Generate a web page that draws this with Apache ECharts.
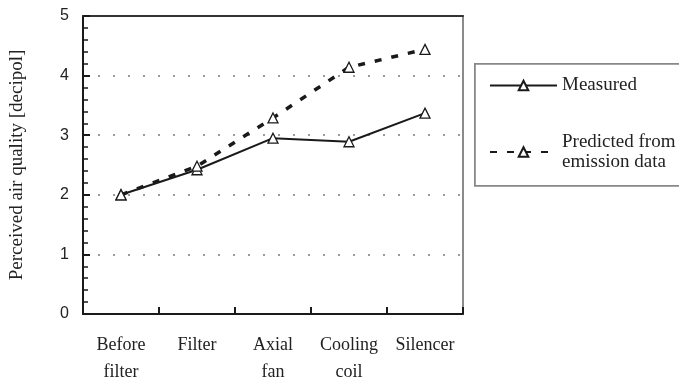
<!DOCTYPE html>
<html>
<head>
<meta charset="utf-8">
<script src="https://cdn.jsdelivr.net/npm/echarts@6/dist/echarts.min.js"></script>
<style>
  html, body { margin: 0; padding: 0; background: #fff; }
  #chart { width: 679px; height: 380px; }
</style>
</head>
<body>
<div id="chart"></div>
<script>
const categories = ['Before\nfilter', 'Filter', 'Axial\nfan', 'Cooling\ncoil', 'Silencer']
const measured = [2.0, 2.42, 2.95, 2.89, 3.37]
const predicted = [2.0, 2.48, 3.29, 4.14, 4.44]
const yTicks = [0, 1, 2, 3, 4, 5]

const serif = '"Liberation Serif", "DejaVu Serif", serif'
const sans = '"Liberation Sans", Arial, sans-serif'
const ink = '#1a1a1a'

const chart = echarts.init(document.getElementById('chart'), null, { renderer: 'canvas' })

const markerStyle = { color: '#fff', borderColor: ink, borderWidth: 1.3 }

chart.setOption({
  animation: false,
  backgroundColor: '#fff',
  grid: {
    left: 83, right: 216, top: 16, bottom: 66,
    outerBoundsMode: 'none',
    show: true, borderColor: '#666', borderWidth: 1.5, backgroundColor: 'transparent',
  },
  xAxis: [
    {
      type: 'category',
      data: categories,
      boundaryGap: true,
      axisLine: { lineStyle: { color: ink, width: 2 } },
      axisTick: { show: true, inside: true, length: 7, lineStyle: { color: ink, width: 2 } },
      axisLabel: {
        interval: 0,
        color: '#222', fontFamily: serif, fontSize: 18, lineHeight: 27, margin: 18,
      },
      splitLine: { show: false },
    },
    {
      // top frame line only
      type: 'category',
      data: categories,
      position: 'top',
      axisLine: { lineStyle: { color: '#333', width: 2 } },
      axisTick: { show: false },
      axisLabel: { show: false },
      splitLine: { show: false },
    },
  ],
  yAxis: {
    type: 'value',
    min: yTicks[0],
    max: yTicks[yTicks.length - 1],
    interval: 1,
    name: 'Perceived air quality [decipol]',
    nameLocation: 'middle',
    nameGap: 56,
    nameTextStyle: { color: '#222', fontFamily: serif, fontSize: 19 },
    axisLine: { show: true, lineStyle: { color: ink, width: 2 } },
    axisTick: { show: true, inside: true, length: 7, lineStyle: { color: ink, width: 2 } },
    minorTick: { show: true, splitNumber: 5, length: 5, lineStyle: { color: ink, width: 1.5 } },
    axisLabel: { color: '#222', fontFamily: sans, fontSize: 16, margin: 14 },
    splitLine: { show: true, lineStyle: { color: '#9a9a9a', width: 2, type: [2, 13] } },
  },
  legend: [
    {
      data: ['Measured'],
      orient: 'vertical',
      left: 484, top: 71,
      itemWidth: 67, itemHeight: 12,
      textStyle: { color: '#222', fontFamily: serif, fontSize: 19 },
    },
    {
      data: ['Predicted from emission data'],
      orient: 'vertical',
      left: 484, top: 117,
      itemWidth: 67, itemHeight: 12,
      formatter: () => 'Predicted from\nemission data',
      textStyle: {
        color: '#222', fontFamily: serif, fontSize: 19, lineHeight: 20, padding: [20, 0, 0, 0],
      },
    },
  ],
  graphic: [{
    type: 'rect',
    left: 474, top: 63,
    shape: { width: 230, height: 122 },
    style: { fill: 'transparent', stroke: '#888', lineWidth: 1.8 },
    silent: true,
  }],
  series: [
    {
      name: 'Measured',
      type: 'line',
      data: measured,
      symbol: 'triangle',
      symbolSize: 10,
      showAllSymbol: true,
      color: ink,
      lineStyle: { color: ink, width: 2 },
      itemStyle: markerStyle,
      z: 3,
    },
    {
      name: 'Predicted from emission data',
      type: 'line',
      data: predicted,
      symbol: 'triangle',
      symbolSize: 10,
      showAllSymbol: true,
      color: ink,
      lineStyle: { color: ink, width: 3.5, type: [7, 10] },
      itemStyle: markerStyle,
      z: 4,
    },
  ],
})
</script>
</body>
</html>
